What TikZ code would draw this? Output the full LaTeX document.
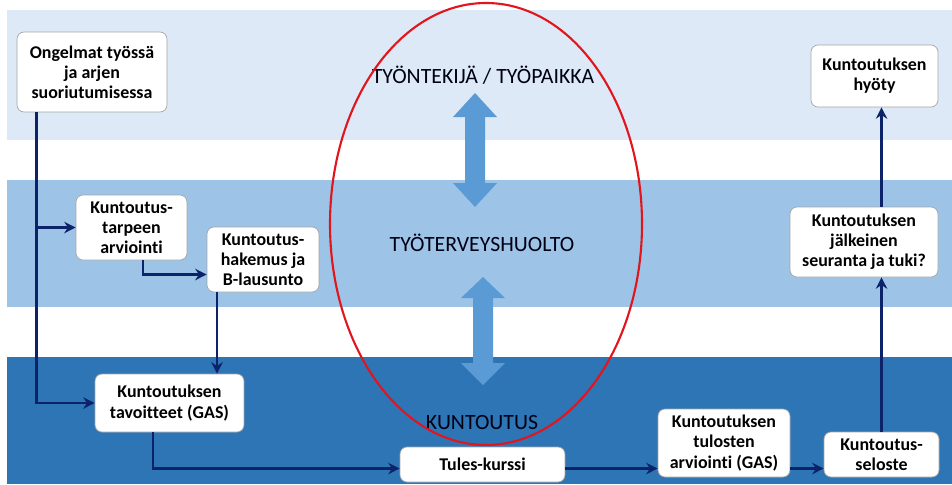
\documentclass[tikz,border=0pt]{standalone}
\usepackage{fontspec}
\setmainfont{Carlito}[Ligatures=NoCommon]
\usetikzlibrary{arrows.meta}

\definecolor{bandtop}{RGB}{221,233,246}
\definecolor{bandmid}{RGB}{157,195,230}
\definecolor{bandlow}{RGB}{46,117,182}
\definecolor{bigarrow}{RGB}{91,155,213}
\definecolor{navy}{RGB}{12,35,105}
\definecolor{ringred}{RGB}{226,20,28}

\tikzset{
    box/.style={draw=gray!70, fill=white, rounded corners=4pt, align=center, inner sep=1pt,
        font=\fontsize{10.2}{11.5}\selectfont\bfseries},
    flow/.style={navy, line width=1.6pt, -{Stealth[length=6.5pt, width=6.5pt]}},
    level/.style={font=\fontsize{12.4}{14}\selectfont, text=black!92!blue}
}

\begin{document}
\begin{tikzpicture}[x=0.02cm, y=-0.02cm]
        \useasboundingbox (0, 0) rectangle (952, 484);

        \fill[bandtop] (7, 10) rectangle (952, 140);
        \fill[bandmid] (7, 180) rectangle (952, 307);
        \fill[bandlow] (7, 357) rectangle (952, 484);

        \fill[bigarrow] (475, 93) -- (497, 117) -- (485, 117) -- (485, 183) -- (497, 183) -- (475, 207)
            -- (453, 183) -- (465, 183) -- (465, 117) -- (453, 117) -- cycle;
        \fill[bigarrow] (483, 277) -- (505, 298) -- (493, 298) -- (493, 363) -- (505, 363) -- (483, 385)
            -- (461, 363) -- (473, 363) -- (473, 298) -- (461, 298) -- cycle;

        \node[level] (tyopaikka) at (483, 75) {TYÖNTEKIJÄ / TYÖPAIKKA};
        \node[level] (tth) at (482, 243) {TYÖTERVEYSHUOLTO};
        \node[level] (kuntoutus) at (482, 422) {KUNTOUTUS};

        \draw[ringred, line width=1.2pt] (486, 224) ellipse [x radius=156, y radius=221];

        \node[box, minimum width=3cm, minimum height=1.6cm] (ongelmat) at (92, 72) {Ongelmat työssä\\ja arjen\\suoriutumisessa};
        \node[box, minimum width=2.22cm, minimum height=1.3cm] (tarve) at (131.5, 227.5) {Kuntoutus-\\tarpeen\\arviointi};
        \node[box, minimum width=2.24cm, minimum height=1.3cm] (hakemus) at (263, 259.5) {Kuntoutus-\\hakemus ja\\B-lausunto};
        \node[box, minimum width=2.98cm, minimum height=1.16cm] (tavoitteet) at (169.5, 403) {Kuntoutuksen\\tavoitteet (GAS)};
        \node[box, minimum width=3.3cm, minimum height=0.7cm] (tules) at (482.5, 464.5) {Tules-kurssi};
        \node[box, minimum width=2.64cm, minimum height=1.36cm] (tulokset) at (724, 443) {Kuntoutuksen\\tulosten\\arviointi (GAS)};
        \node[box, minimum width=2.3cm, minimum height=0.9cm] (seloste) at (881.5, 454.5) {Kuntoutus-\\seloste};
        \node[box, minimum width=2.96cm, minimum height=1.4cm] (seuranta) at (864, 242) {Kuntoutuksen\\jälkeinen\\seuranta ja tuki?};
        \node[box, minimum width=2.54cm, minimum height=1.24cm] (hyoty) at (874.5, 76) {Kuntoutuksen\\hyöty};

        \coordinate (runko) at ([xshift=0.4cm]ongelmat.south west);
        \draw[flow] (runko) |- (tavoitteet);
        \draw[flow] (runko |- tarve) -- (tarve);
        \draw[flow] ([xshift=0.23cm]tarve.south) |- ([yshift=-0.3cm]hakemus.west);
        \draw[flow] ([xshift=-0.92cm]hakemus.south) coordinate (alas) -- (alas |- tavoitteet.north);
        \draw[flow] ([xshift=-0.33cm]tavoitteet.south) |- ([yshift=-0.08cm]tules.west);
        \draw[flow] ([yshift=-0.08cm]tules.east) coordinate (oikea) -- (oikea -| tulokset.west);
        \draw[flow] (oikea -| tulokset.east) -- (oikea -| seloste.west);
        \draw[flow] (seloste) -- (seloste |- seuranta.south);
        \draw[flow] (seloste |- seuranta.north) -- (seloste |- hyoty.south);
    \end{tikzpicture}
\end{document}
